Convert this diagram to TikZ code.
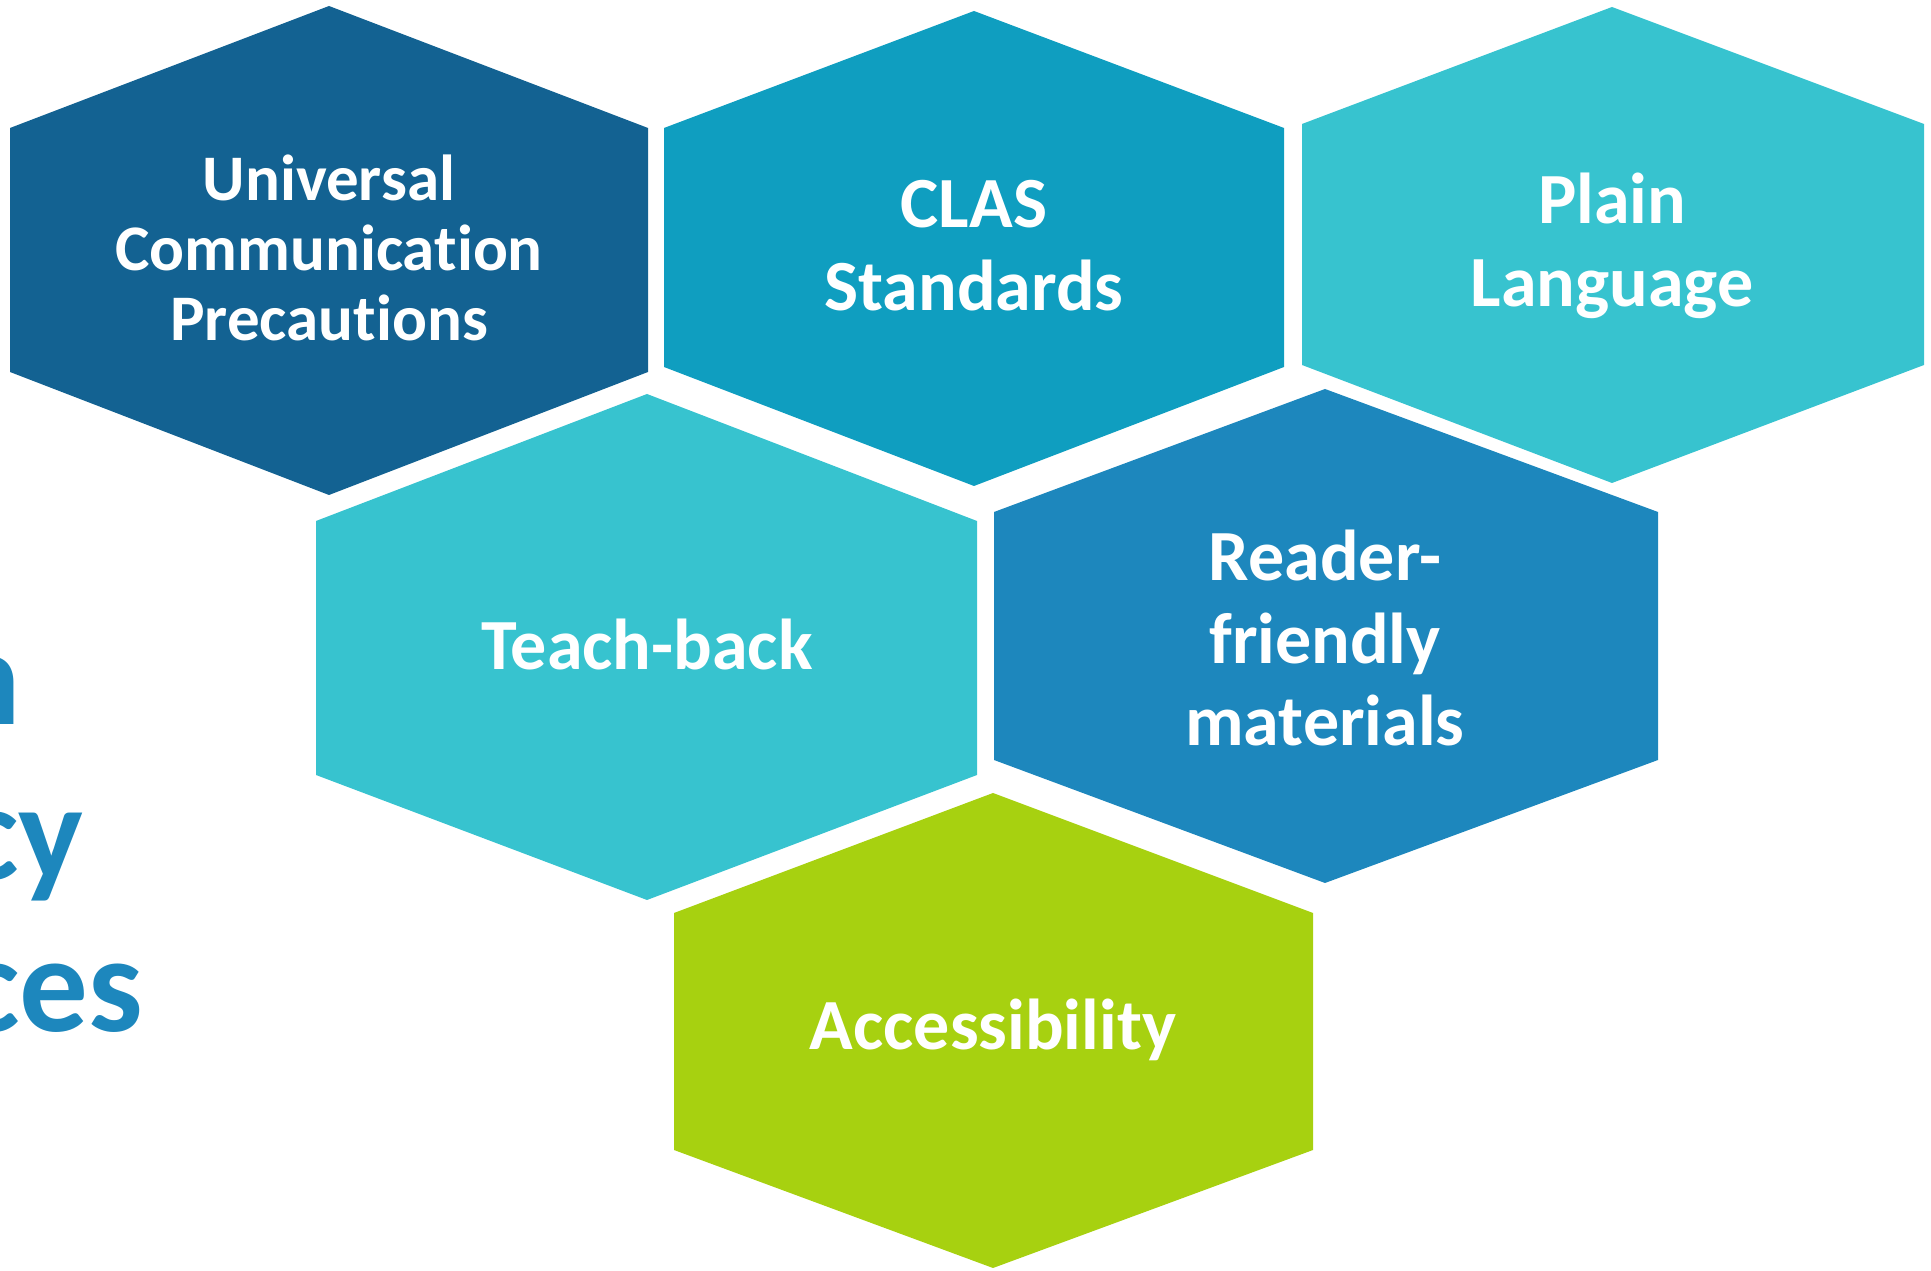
\documentclass[tikz,border=0pt]{standalone}
\usepackage{fontspec}
\setmainfont{Carlito}[Ligatures=NoCommon]
\usepackage{xcolor}
\definecolor{hexnavy}{RGB}{19,98,146}
\definecolor{hexteal}{RGB}{15,158,192}
\definecolor{hexcyan}{RGB}{55,195,207}
\definecolor{hexblue}{RGB}{29,135,189}
\definecolor{hexlime}{RGB}{167,209,16}
\tikzset{
  hexlabel/.style={text=white,align=center,inner sep=0pt,
    font=\bfseries\fontsize{20.5}{23.6}\selectfont},
  sidelabel/.style={text=hexblue,inner sep=0pt,anchor=base east,
    font=\bfseries\fontsize{39}{44}\selectfont}
}

\begin{document}
\begin{tikzpicture}[scale=1]
\useasboundingbox (0,0) rectangle (19.31,12.70);
\clip (0,0) rectangle (19.31,12.70);

%side title, cut off at the left
\node [sidelabel] (sidea) at (0.22,5.45) {n};
\node [sidelabel] (sideb) at (0.84,3.90) {cy};
\node [sidelabel] (sidec) at (1.44,2.38) {ces};

%Universal Communication Precautions
\draw [fill=hexnavy,draw=none] (3.29,12.64) -- (0.10,11.42) -- (0.10,8.98) -- (3.29,7.75) -- (6.48,8.98) -- (6.48,11.42) -- cycle;
\node [hexlabel,font=\bfseries\fontsize{18.5}{19.9}\selectfont] (ucp) at (3.29,10.22) {Universal\\Communication\\Precautions};

%CLAS Standards
\draw [fill=hexteal,draw=none] (9.74,12.59) -- (6.64,11.42) -- (6.64,9.03) -- (9.74,7.84) -- (12.84,9.03) -- (12.84,11.42) -- cycle;
\node [hexlabel] (clas) at (9.74,10.24) {CLAS\\Standards};

%Plain Language
\draw [fill=hexcyan,draw=none] (16.12,12.63) -- (13.02,11.46) -- (13.02,9.05) -- (16.12,7.87) -- (19.24,9.05) -- (19.24,11.46) -- cycle;
\node [hexlabel] (plain) at (16.12,10.24) {Plain\\Language};

%Teach-back
\draw [fill=hexcyan,draw=none] (6.47,8.76) -- (3.16,7.49) -- (3.16,4.95) -- (6.47,3.70) -- (9.77,4.95) -- (9.77,7.49) -- cycle;
\node [hexlabel] (teach) at (6.47,6.26) {Teach-back};

%Reader-friendly materials
\draw [fill=hexblue,draw=none] (13.25,8.81) -- (9.94,7.58) -- (9.94,5.10) -- (13.25,3.87) -- (16.58,5.10) -- (16.58,7.58) -- cycle;
\node [hexlabel] (reader) at (13.25,6.32) {Reader-\\friendly\\materials};

%Accessibility
\draw [fill=hexlime,draw=none] (9.93,4.77) -- (6.74,3.57) -- (6.74,1.20) -- (9.93,0.02) -- (13.13,1.20) -- (13.13,3.57) -- cycle;
\node [hexlabel] (access) at (9.93,2.40) {Accessibility};
\end{tikzpicture}
\end{document}
